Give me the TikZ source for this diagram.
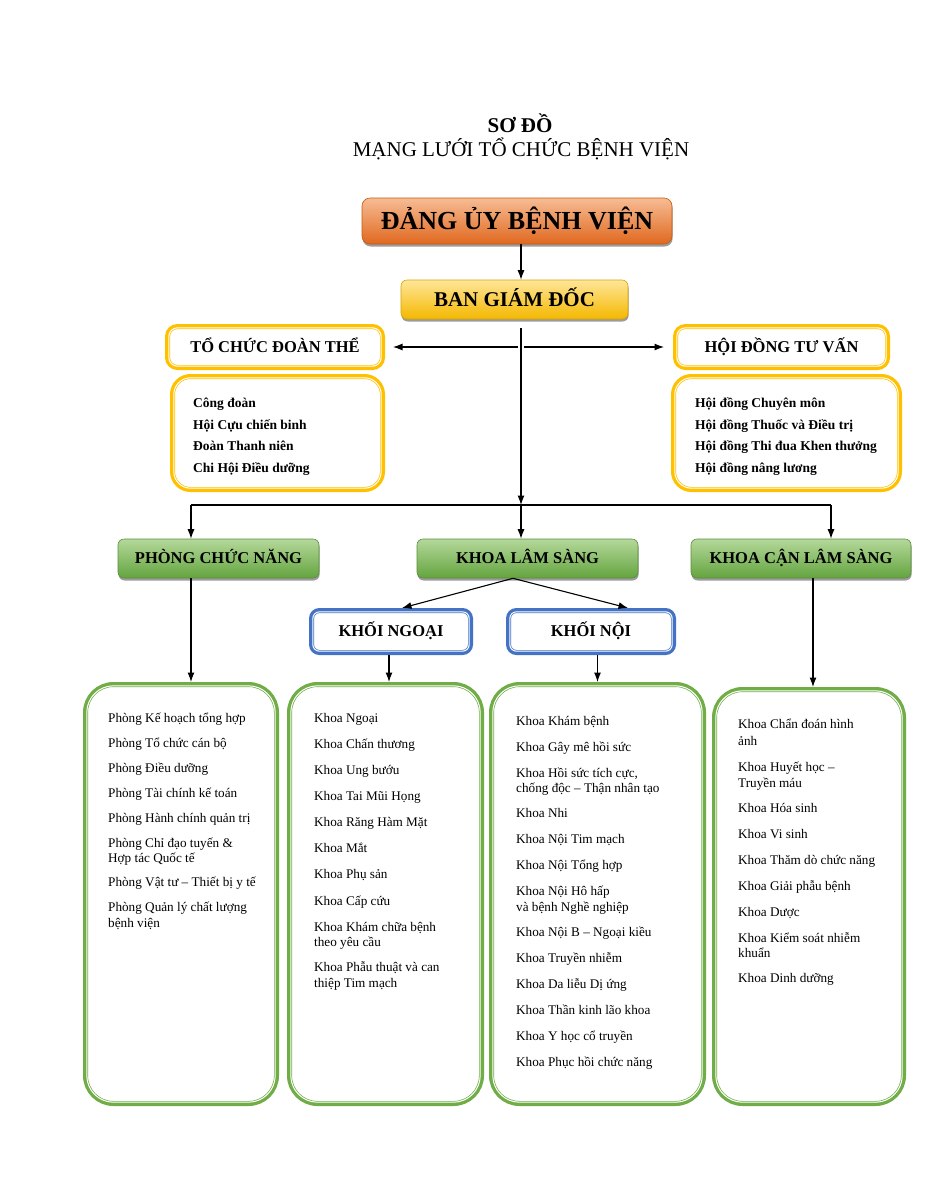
\documentclass[tikz,border=0pt]{standalone}
\usepackage{fontspec}
\setmainfont{Liberation Serif}
\usetikzlibrary{arrows.meta,shadows}
\definecolor{gold}{HTML}{FFC000}
\definecolor{gframe}{HTML}{70AD47}
\definecolor{bframe}{HTML}{4472C4}
\definecolor{gtop}{HTML}{B4D89A}
\definecolor{gbot}{HTML}{64A43F}
\definecolor{gline}{HTML}{5C8E3C}
\definecolor{otop}{HTML}{F7BC94}
\definecolor{obot}{HTML}{E0681F}
\definecolor{oline}{HTML}{C55A11}
\definecolor{ytop}{HTML}{FFE699}
\definecolor{ybot}{HTML}{F4B800}
\definecolor{yline}{HTML}{D9A300}
\tikzset{
    arr/.style={-{Latex[length=9.5pt,width=7pt]}, line width=1.1pt},
    frm/.style 2 args={draw=#1, line width=5pt, outer sep=2.5pt, fill=white, rounded corners=#2, inner sep=0pt},
    inr/.style={draw=white, line width=1pt, rounded corners=#1},
    head/.style={font=\bfseries\fontsize{16.5}{20}\selectfont, text height=10.9pt, text depth=0pt, inner sep=0pt},
    gbox/.style={head, draw=gline, line width=0.6pt, rounded corners=6pt, top color=gtop, bottom color=gbot,
        drop shadow={shadow xshift=0.6pt, shadow yshift=-2.5pt, opacity=0.55, fill=black!70}},
    item/.style={font=\fontsize{13.2}{16}\selectfont, anchor=base west, inner sep=0pt},
    bitem/.style={item, font=\bfseries\fontsize{13.5}{16}\selectfont}
}
\begin{document}
\begin{tikzpicture}[x=1pt,y=-1pt]
            \path[use as bounding box, fill=white] (0,0) rectangle (927,1200);

            \node[anchor=base, font=\bfseries\fontsize{21}{25}\selectfont] (ttl) at (520,132) {SƠ ĐỒ};
            \node[anchor=base, font=\fontsize{21}{25}\selectfont] (sub) at (521,156) {MẠNG LƯỚI TỔ CHỨC BỆNH VIỆN};

            \node[font=\bfseries\fontsize{26}{30}\selectfont, text height=17.2pt, text depth=0pt, inner sep=0pt,
                draw=oline, line width=0.6pt, rounded corners=8pt, top color=otop, bottom color=obot,
                minimum width=310pt, minimum height=46pt,
                drop shadow={shadow xshift=0.6pt, shadow yshift=-2.5pt, opacity=0.55, fill=black!70}]
                (dangy) at (517,221) {ĐẢNG ỦY BỆNH VIỆN};
            \node[font=\bfseries\fontsize{21}{25}\selectfont, text height=13.9pt, text depth=0pt, inner sep=0pt,
                draw=yline, line width=0.6pt, rounded corners=6pt, top color=ytop, bottom color=ybot,
                minimum width=227pt, minimum height=39pt,
                drop shadow={shadow xshift=0.6pt, shadow yshift=-2.5pt, opacity=0.55, fill=black!70}]
                (bgd) at (514.5,299.5) {BAN GIÁM ĐỐC};

            \node[frm={gold}{10pt}, head, minimum width=215pt, minimum height=41pt] (tcdt) at (275,347) {TỔ CHỨC ĐOÀN THỂ};
            \node[frm={gold}{10pt}, head, minimum width=212pt, minimum height=41pt] (hdtv) at (781.5,347) {HỘI ĐỒNG TƯ VẤN};
            \node[frm={gold}{18pt}, minimum width=210pt, minimum height=113pt] (tcl) at (277.5,433) {};
            \node[frm={gold}{18pt}, minimum width=226pt, minimum height=113pt] (hdl) at (786.5,433) {};

            \node[gbox, minimum width=201pt, minimum height=39pt] (pcn) at (218.5,558.5) {PHÒNG CHỨC NĂNG};
            \node[gbox, minimum width=221pt, minimum height=39pt] (kls) at (527.5,558.5) {KHOA LÂM SÀNG};
            \node[gbox, minimum width=220pt, minimum height=39pt] (kcls) at (801,558.5) {KHOA CẬN LÂM SÀNG};

            \node[frm={bframe}{8pt}, head, minimum width=159pt, minimum height=42pt] (kngoai) at (391,631.5) {KHỐI NGOẠI};
            \node[frm={bframe}{8pt}, head, minimum width=165pt, minimum height=42pt] (knoi) at (591,631.5) {KHỐI NỘI};

            \node[frm={gframe}{28pt}, minimum width=191pt, minimum height=419pt] (lpcn) at (181,894) {};
            \node[frm={gframe}{28pt}, minimum width=192pt, minimum height=419pt] (lngoai) at (385.5,894) {};
            \node[frm={gframe}{28pt}, minimum width=212pt, minimum height=419pt] (lnoi) at (597.5,894) {};
            \node[frm={gframe}{28pt}, minimum width=189pt, minimum height=414pt] (lcls) at (809,896.5) {};

            % thin inner line of the framed boxes
            \foreach \n/\r in {tcdt/8.7pt, hdtv/8.7pt, tcl/16.7pt, hdl/16.7pt, kngoai/6.7pt, knoi/6.7pt,
                lpcn/26.7pt, lngoai/26.7pt, lnoi/26.7pt, lcls/26.7pt}
                \draw[inr=\r] ([shift={(3.8pt,3.8pt)}]\n.south west) rectangle ([shift={(-3.8pt,-3.8pt)}]\n.north east);

            \foreach \y/\t [count=\i] in {407.5/Công đoàn, 429.5/Hội Cựu chiến binh, 450.5/Đoàn Thanh niên, 472.5/Chi Hội Điều dưỡng}
                \node[bitem] (tc\i) at (193,\y) {\t};
            \foreach \y/\t [count=\i] in {407.5/Hội đồng Chuyên môn, 429.5/Hội đồng Thuốc và Điều trị,
                450.5/Hội đồng Thi đua Khen thưởng, 472.5/Hội đồng nâng lương}
                \node[bitem] (hd\i) at (695,\y) {\t};

            \foreach \y/\t [count=\i] in {722/Phòng Kế hoạch tổng hợp, 747/Phòng Tổ chức cán bộ, 772/Phòng Điều dưỡng,
                797/Phòng Tài chính kế toán, 822/Phòng Hành chính quản trị, 847/Phòng Chỉ đạo tuyến \&,
                862/Hợp tác Quốc tế, 886/Phòng Vật tư – Thiết bị y tế, 911/Phòng Quản lý chất lượng, 927/bệnh viện}
                \node[item] (pc\i) at (108,\y) {\t};
            \foreach \y/\t [count=\i] in {722/Khoa Ngoại, 748/Khoa Chấn thương, 774/Khoa Ung bướu, 800/Khoa Tai Mũi Họng,
                826/Khoa Răng Hàm Mặt, 852/Khoa Mắt, 878/Khoa Phụ sản, 905/Khoa Cấp cứu, 931/Khoa Khám chữa bệnh,
                946/theo yêu cầu, 971/Khoa Phẫu thuật và can, 987/thiệp Tim mạch}
                \node[item] (ng\i) at (314,\y) {\t};
            \foreach \y/\t [count=\i] in {725/Khoa Khám bệnh, 751/Khoa Gây mê hồi sức, {777/Khoa Hồi sức tích cực,},
                792/chống độc – Thận nhân tạo, 817/Khoa Nhi, 843/Khoa Nội Tim mạch, 869/Khoa Nội Tổng hợp,
                895/Khoa Nội Hô hấp, 911/và bệnh Nghề nghiệp, 936/Khoa Nội B – Ngoại kiều, 962/Khoa Truyền nhiễm,
                988/Khoa Da liễu Dị ứng, 1014/Khoa Thần kinh lão khoa, 1040/Khoa Y học cổ truyền, 1066/Khoa Phục hồi chức năng}
                \node[item] (no\i) at (516,\y) {\t};
            \foreach \y/\t [count=\i] in {728/Khoa Chẩn đoán hình, 745/ảnh, 771/Khoa Huyết học –, 787/Truyền máu,
                812/Khoa Hóa sinh, 838/Khoa Vi sinh, 864/Khoa Thăm dò chức năng, 890/Khoa Giải phẫu bệnh,
                916/Khoa Dược, 942/Khoa Kiểm soát nhiễm, 957/khuẩn, 982/Khoa Dinh dưỡng}
                \node[item] (cl\i) at (738,\y) {\t};

            \coordinate (hub) at (521,505);
            \coordinate (mid) at (521,347);
            \coordinate (busl) at (191,505);
            \coordinate (busr) at (831,505);
            \coordinate (bgdb) at ([yshift=-9pt]bgd.south);
            \coordinate (klsb) at ([xshift=-14.5pt]kls.south);

            \draw[arr] ([xshift=4pt]dangy.south) -- ([xshift=4pt]dangy.south |- bgd.north);
            \draw[arr] (hub |- bgdb) -- (hub);
            \draw[arr] ([xshift=-3pt]mid) -- ([xshift=8pt]tcdt.east);
            \draw[arr] ([xshift=3pt]mid) -- ([xshift=-9pt]hdtv.west);
            \draw[line width=1.1pt] (busl) -- (busr);
            \draw[arr] (busl) -- (busl |- pcn.north);
            \draw[arr] (hub) -- (hub |- kls.north);
            \draw[arr] (busr) -- (busr |- kcls.north);
            \draw[arr] (klsb) -- ([xshift=11pt]kngoai.north);
            \draw[arr] (klsb) -- ([xshift=37pt]knoi.north);
            \draw[arr] (pcn.south -| busl) -- (busl |- lpcn.north);
            \draw[arr] ([xshift=-2pt]kngoai.south) -- ([xshift=-2pt]kngoai.south |- lngoai.north);
            \draw[arr] (lnoi.north |- knoi.south) -- (lnoi.north);
            \draw[arr] ([xshift=4pt]lcls.north |- kcls.south) -- ([xshift=4pt]lcls.north);
\end{tikzpicture}
\end{document}
